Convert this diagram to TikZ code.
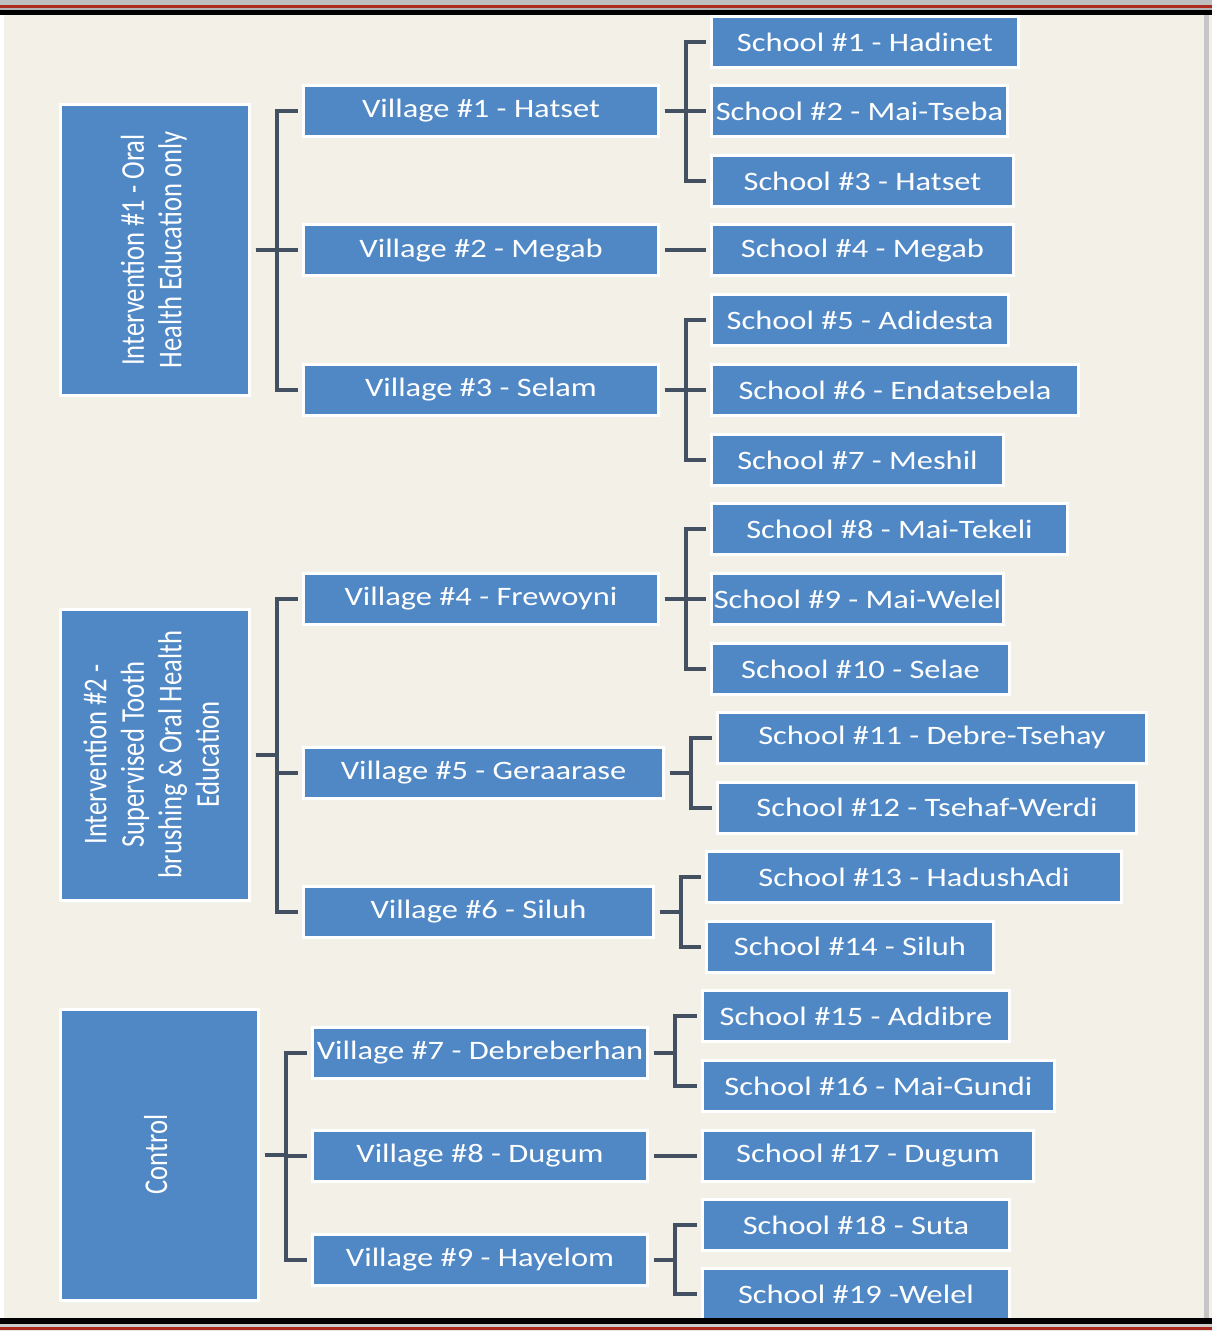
\documentclass[tikz,border=0pt]{standalone}
\usepackage{fontspec}
\setmainfont{Carlito}
\usepackage{graphicx}
\definecolor{paper}{RGB}{243,240,232}
\definecolor{boxblue}{RGB}{80,136,198}
\definecolor{linkgray}{RGB}{66,80,98}
\definecolor{framered}{RGB}{172,42,30}
\newcommand{\wtxt}[1]{\scalebox{1.22}[1]{#1}}
\newcommand{\rtxt}[1]{\rotatebox{90}{\scalebox{1}[1.25]{\begin{tabular}{@{}c@{}}#1\end{tabular}}}}
\tikzstyle{box}=[rectangle, fill=boxblue, draw=white, line width=1.5pt, outer sep=0pt, inner sep=0pt, text=white, font=\fontsize{13.3}{15}\selectfont]
\tikzstyle{unitbox}=[box, minimum height=25.5pt, minimum width=(#1+3)*0.5pt]
\tikzstyle{grp}=[box, minimum height=145.5pt, minimum width=(#1+3)*0.5pt]
\tikzstyle{conn}=[draw=linkgray, line width=2pt]

\begin{document}
\begin{tikzpicture}[x=0.5pt,y=-0.5pt]
    \useasboundingbox (0,0) rectangle (1212,1331);
    \fill[paper] (0,0) rectangle (1212,1331);
    \fill[white] (0,15) rectangle (4,1318);
    % groups
    \node[grp=186] (g1) at (155,250) {\rtxt{Intervention \#1 - Oral\\Health Education only}};
    \node[grp=186] (g2) at (155,754.5) {\rtxt{Intervention \#2 -\\Supervised Tooth\\brushing \& Oral Health\\Education}};
    \node[grp=195] (g3) at (159.5,1154.5) {\rtxt{Control}};
    % villages
    \node[unitbox=352] (v1) at (481,111) {\wtxt{Village \#1 - Hatset}};
    \node[unitbox=352] (v2) at (481,250.5) {\wtxt{Village \#2 - Megab}};
    \node[unitbox=352] (v3) at (481,390) {\wtxt{Village \#3 - Selam}};
    \node[unitbox=352] (v4) at (481,599) {\wtxt{Village \#4 - Frewoyni}};
    \node[unitbox=357] (v5) at (483.5,772.5) {\wtxt{Village \#5 - Geraarase}};
    \node[unitbox=347] (v6) at (478.5,912) {\wtxt{Village \#6 - Siluh}};
    \node[unitbox=332] (v7) at (480,1052.5) {\wtxt{Village \#7 - Debreberhan}};
    \node[unitbox=332] (v8) at (480,1155.5) {\wtxt{Village \#8 - Dugum}};
    \node[unitbox=332] (v9) at (480,1260) {\wtxt{Village \#9 - Hayelom}};
    % schools
    \node[unitbox=304] (s1) at (865,42) {\wtxt{School \#1 - Hadinet}};
    \node[unitbox=293] (s2) at (859.5,111) {\wtxt{School \#2 - Mai-Tseba}};
    \node[unitbox=299] (s3) at (862.5,181) {\wtxt{School \#3 - Hatset}};
    \node[unitbox=299] (s4) at (862.5,250.5) {\wtxt{School \#4 - Megab}};
    \node[unitbox=294] (s5) at (860,320) {\wtxt{School \#5 - Adidesta}};
    \node[unitbox=364] (s6) at (895,390) {\wtxt{School \#6 - Endatsebela}};
    \node[unitbox=289] (s7) at (857.5,460) {\wtxt{School \#7 - Meshil}};
    \node[unitbox=353] (s8) at (889.5,529) {\wtxt{School \#8 - Mai-Tekeli}};
    \node[unitbox=289] (s9) at (857.5,599) {\wtxt{School \#9 - Mai-Welel}};
    \node[unitbox=295] (s10) at (860.5,669) {\wtxt{School \#10 - Selae}};
    \node[unitbox=426] (s11) at (932,737.5) {\wtxt{School \#11 - Debre-Tsehay}};
    \node[unitbox=416] (s12) at (927,807.5) {\wtxt{School \#12 - Tsehaf-Werdi}};
    \node[unitbox=412] (s13) at (914,877) {\wtxt{School \#13 - HadushAdi}};
    \node[unitbox=284] (s14) at (850,946.5) {\wtxt{School \#14 - Siluh}};
    \node[unitbox=304] (s15) at (856,1016) {\wtxt{School \#15 - Addibre}};
    \node[unitbox=349] (s16) at (878.5,1086) {\wtxt{School \#16 - Mai-Gundi}};
    \node[unitbox=328] (s17) at (868,1155.5) {\wtxt{School \#17 - Dugum}};
    \node[unitbox=304] (s18) at (856,1225) {\wtxt{School \#18 - Suta}};
    \node[unitbox=304] (s19) at (856,1294) {\wtxt{School \#19 -Welel}};
    \foreach \from/\to in
      {g1/v1, g1/v2, g1/v3, g2/v4, g2/v5, g2/v6, g3/v7, g3/v8, g3/v9,
       v1/s1, v1/s2, v1/s3, v2/s4, v3/s5, v3/s6, v3/s7, v4/s8, v4/s9, v4/s10,
       v5/s11, v5/s12, v6/s13, v6/s14, v7/s15, v7/s16, v8/s17, v9/s18, v9/s19}
    \draw[conn] ([xshift=3pt]\from.east) -- ++(21,0) |- ([xshift=-3pt]\to.west);
    % frame
    \fill[gray!45] (1204,15) rectangle (1209,1318);
    \fill[gray!50] (0,0) rectangle (1212,5.5);
    \fill[framered] (0,5.5) rectangle (1212,8);
    \fill[gray!60] (0,8) rectangle (1212,10);
    \fill[black] (0,10) rectangle (1212,15.5);
    \fill[black] (0,1318) rectangle (1212,1324);
    \fill[gray!40] (0,1324) rectangle (1212,1326.5);
    \fill[framered] (0,1326.5) rectangle (1212,1329.5);
    \fill[gray!20] (0,1329.5) rectangle (1212,1331);
    \end{tikzpicture}
\end{document}
